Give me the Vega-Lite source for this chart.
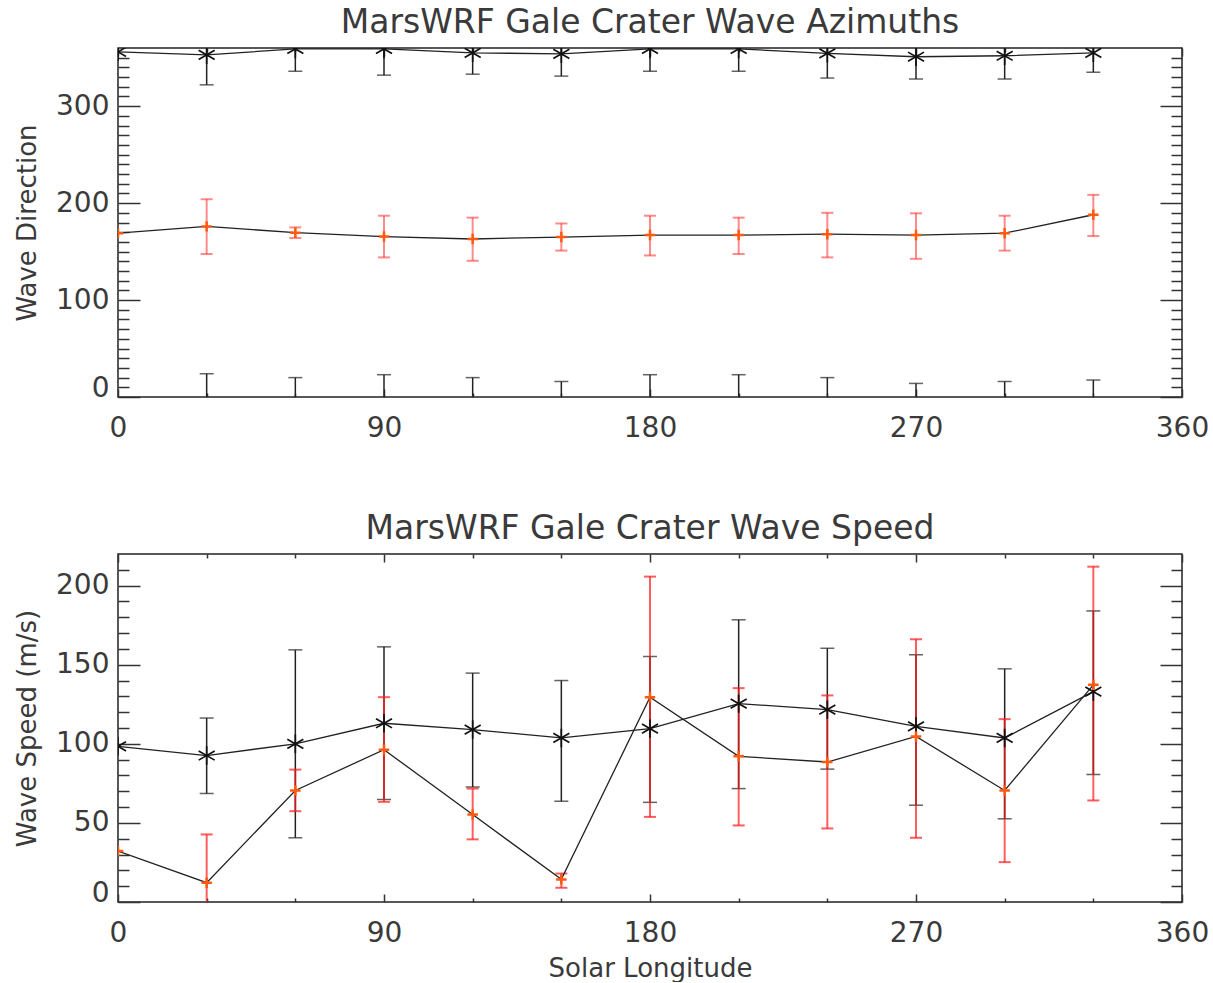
{
  "$schema": "https://vega.github.io/schema/vega-lite/v6.json",
  "padding": {"left": 13, "top": 6, "right": 0, "bottom": 0},
  "background": "white",
  "bounds": "flush",
  "spacing": 157,
  "config": {
    "view": {"stroke": "#222", "strokeWidth": 1.5},
    "font": "DejaVu Sans",
    "axis": {"labelFont": "DejaVu Sans", "labelFontSize": 28, "labelColor": "#3a3a3a", "titleFont": "DejaVu Sans", "titleFontSize": 26, "titleFontWeight": "normal", "titleColor": "#3a3a3a", "tickColor": "#333", "tickWidth": 1.5, "grid": false, "domain": false},
    "title": {"font": "DejaVu Sans", "fontSize": 33, "fontWeight": "normal", "color": "#3a3a3a", "anchor": "middle", "frame": "group", "offset": 7, "baseline": "alphabetic"}
  },
  "datasets": {
    "azimuth": [
      {"ls": 0, "series": "A", "dir": 356, "lo": null, "wrap": null},
      {"ls": 30, "series": "A", "dir": 353, "lo": 322, "wrap": 24},
      {"ls": 60, "series": "A", "dir": 359, "lo": 336, "wrap": 20},
      {"ls": 90, "series": "A", "dir": 359, "lo": 332, "wrap": 23},
      {"ls": 120, "series": "A", "dir": 355, "lo": 333, "wrap": 20},
      {"ls": 150, "series": "A", "dir": 354, "lo": 331, "wrap": 16},
      {"ls": 180, "series": "A", "dir": 359, "lo": 336, "wrap": 23},
      {"ls": 210, "series": "A", "dir": 359, "lo": 336, "wrap": 23},
      {"ls": 240, "series": "A", "dir": 354.5, "lo": 329, "wrap": 20},
      {"ls": 270, "series": "A", "dir": 351, "lo": 328, "wrap": 14},
      {"ls": 300, "series": "A", "dir": 352, "lo": 328, "wrap": 16},
      {"ls": 330, "series": "A", "dir": 355, "lo": 335, "wrap": 17.5},
      {"ls": 0, "series": "B", "dir": 169, "lo": null, "hi": null},
      {"ls": 30, "series": "B", "dir": 176, "lo": 147.5, "hi": 204},
      {"ls": 60, "series": "B", "dir": 169.5, "lo": 164, "hi": 175},
      {"ls": 90, "series": "B", "dir": 165.5, "lo": 144, "hi": 187},
      {"ls": 120, "series": "B", "dir": 163, "lo": 140.5, "hi": 185},
      {"ls": 150, "series": "B", "dir": 165, "lo": 151, "hi": 179},
      {"ls": 180, "series": "B", "dir": 167, "lo": 146, "hi": 187},
      {"ls": 210, "series": "B", "dir": 167, "lo": 147.5, "hi": 185},
      {"ls": 240, "series": "B", "dir": 168, "lo": 144, "hi": 190},
      {"ls": 270, "series": "B", "dir": 167, "lo": 142.5, "hi": 189.5},
      {"ls": 300, "series": "B", "dir": 169, "lo": 151, "hi": 187},
      {"ls": 330, "series": "B", "dir": 188, "lo": 166, "hi": 208.5}
    ],
    "speed": [
      {"ls": 0, "series": "A", "speed": 98.4, "lo": null, "hi": null},
      {"ls": 30, "series": "A", "speed": 92.6, "lo": 68.6, "hi": 116.3},
      {"ls": 60, "series": "A", "speed": 100, "lo": 40.6, "hi": 159.4},
      {"ls": 90, "series": "A", "speed": 113, "lo": 64.8, "hi": 161.3},
      {"ls": 120, "series": "A", "speed": 109, "lo": 72.7, "hi": 144.7},
      {"ls": 150, "series": "A", "speed": 103.7, "lo": 63.7, "hi": 140},
      {"ls": 180, "series": "A", "speed": 109.6, "lo": 63, "hi": 155.2},
      {"ls": 210, "series": "A", "speed": 125.4, "lo": 71.7, "hi": 178.4},
      {"ls": 240, "series": "A", "speed": 121.6, "lo": 84, "hi": 160.4},
      {"ls": 270, "series": "A", "speed": 111, "lo": 61.2, "hi": 156.3},
      {"ls": 300, "series": "A", "speed": 103.7, "lo": 52.6, "hi": 147.4},
      {"ls": 330, "series": "A", "speed": 133, "lo": 80.6, "hi": 184},
      {"ls": 0, "series": "B", "speed": 32.2, "lo": null, "hi": null},
      {"ls": 30, "series": "B", "speed": 12.2, "lo": -18.3, "hi": 42.7},
      {"ls": 60, "series": "B", "speed": 70.5, "lo": 57.4, "hi": 83.7},
      {"ls": 90, "series": "B", "speed": 96.3, "lo": 63.3, "hi": 129.5},
      {"ls": 120, "series": "B", "speed": 55.3, "lo": 39.6, "hi": 71.7},
      {"ls": 150, "series": "B", "speed": 14.3, "lo": 9, "hi": 18},
      {"ls": 180, "series": "B", "speed": 129.5, "lo": 53.8, "hi": 205.7},
      {"ls": 210, "series": "B", "speed": 92.1, "lo": 48.4, "hi": 135.2},
      {"ls": 240, "series": "B", "speed": 88.5, "lo": 46.5, "hi": 130.6},
      {"ls": 270, "series": "B", "speed": 104.7, "lo": 40.6, "hi": 166.1},
      {"ls": 300, "series": "B", "speed": 70.5, "lo": 25.2, "hi": 115.6},
      {"ls": 330, "series": "B", "speed": 137.3, "lo": 64.2, "hi": 212}
    ]
  },
  "vconcat": [
    {
      "width": 1064,
      "height": 349,
      "title": {"text": "MarsWRF Gale Crater Wave Azimuths"},
      "data": {"name": "azimuth"},
      "resolve": {"axis": {"x": "independent", "y": "independent"}},
      "layer": [
        {
          "transform": [{"filter": "datum.series === 'A' && isValid(datum.lo)"}],
          "mark": {"type": "rule", "color": "#222", "strokeWidth": 1.5, "clip": true},
          "encoding": {
            "x": {"field": "ls", "type": "quantitative", "scale": {"domain": [0, 360], "nice": false},
                  "axis": {"orient": "bottom", "values": [0, 90, 180, 270, 360], "ticks": false, "labelFlush": false, "labelPadding": 17, "title": null}},
            "y": {"field": "lo", "type": "quantitative", "scale": {"domain": [0, 360], "nice": false},
                  "axis": {"orient": "left", "values": [0, 100, 200, 300], "ticks": false, "labelPadding": 9, "labelFlush": true, "labelFlushOffset": 5,
                           "title": "Wave Direction", "titleAngle": -90, "titleX": -83, "titleY": 174.5, "titleAlign": "center", "titleBaseline": "alphabetic"}},
            "y2": {"datum": 360}
          }
        },
        {
          "transform": [{"filter": "datum.series === 'A' && isValid(datum.lo)"}],
          "mark": {"type": "tick", "orient": "horizontal", "size": 14, "thickness": 1.5, "color": "#222", "clip": true},
          "encoding": {
            "x": {"field": "ls", "type": "quantitative", "scale": {"domain": [0, 360], "nice": false},
                  "axis": {"orient": "bottom", "values": [0, 90, 180, 270, 360], "tickSize": -8, "labels": false, "title": null}},
            "y": {"field": "lo", "type": "quantitative", "scale": {"domain": [0, 360], "nice": false},
                  "axis": {"orient": "left", "values": [0, 100, 200, 300], "tickSize": -22, "labels": false, "title": null}}
          }
        },
        {
          "transform": [{"filter": "datum.series === 'A' && isValid(datum.wrap)"}],
          "mark": {"type": "rule", "color": "#222", "strokeWidth": 1.5, "clip": true},
          "encoding": {
            "x": {"field": "ls", "type": "quantitative", "scale": {"domain": [0, 360], "nice": false},
                  "axis": {"orient": "bottom", "values": [30, 60, 120, 150, 210, 240, 300, 330], "tickSize": -4, "labels": false, "title": null}},
            "y": {"field": "wrap", "type": "quantitative", "scale": {"domain": [0, 360], "nice": false},
                  "axis": {"orient": "left", "values": [10, 20, 30, 40, 50, 60, 70, 80, 90, 110, 120, 130, 140, 150, 160, 170, 180, 190, 210, 220, 230, 240, 250, 260, 270, 280, 290, 310, 320, 330, 340, 350], "tickSize": -11, "labels": false, "title": null}},
            "y2": {"datum": 0}
          }
        },
        {
          "transform": [{"filter": "datum.series === 'A' && isValid(datum.wrap)"}],
          "mark": {"type": "tick", "orient": "horizontal", "size": 14, "thickness": 1.5, "color": "#222", "clip": true},
          "encoding": {
            "x": {"field": "ls", "type": "quantitative", "scale": {"domain": [0, 360], "nice": false},
                  "axis": {"orient": "top", "values": [0, 90, 180, 270, 360], "tickSize": -8, "labels": false, "title": null}},
            "y": {"field": "wrap", "type": "quantitative", "scale": {"domain": [0, 360], "nice": false},
                  "axis": {"orient": "right", "values": [0, 100, 200, 300], "tickSize": -22, "labels": false, "title": null}}
          }
        },
        {
          "transform": [{"filter": "datum.series === 'B' && isValid(datum.lo)"}],
          "mark": {"type": "rule", "color": "#ff2a2a", "opacity": 0.55, "strokeWidth": 2, "clip": true},
          "encoding": {
            "x": {"field": "ls", "type": "quantitative", "scale": {"domain": [0, 360], "nice": false},
                  "axis": {"orient": "top", "values": [30, 60, 120, 150, 210, 240, 300, 330], "tickSize": -4, "labels": false, "title": null}},
            "y": {"field": "lo", "type": "quantitative", "scale": {"domain": [0, 360], "nice": false},
                  "axis": {"orient": "right", "values": [10, 20, 30, 40, 50, 60, 70, 80, 90, 110, 120, 130, 140, 150, 160, 170, 180, 190, 210, 220, 230, 240, 250, 260, 270, 280, 290, 310, 320, 330, 340, 350], "tickSize": -11, "labels": false, "title": null}},
            "y2": {"field": "hi"}
          }
        },
        {
          "transform": [{"filter": "datum.series === 'B' && isValid(datum.lo)"}, {"fold": ["lo", "hi"], "as": ["end", "val"]}],
          "mark": {"type": "tick", "orient": "horizontal", "size": 12, "thickness": 2, "color": "#ff2a2a", "opacity": 0.55, "clip": true},
          "encoding": {
            "x": {"field": "ls", "type": "quantitative", "scale": {"domain": [0, 360], "nice": false}, "axis": null},
            "y": {"field": "val", "type": "quantitative", "scale": {"domain": [0, 360], "nice": false}, "axis": null}
          }
        },
        {
          "mark": {"type": "line", "color": "#222", "strokeWidth": 1.3, "clip": true},
          "encoding": {
            "x": {"field": "ls", "type": "quantitative", "scale": {"domain": [0, 360], "nice": false}, "axis": null},
            "y": {"field": "dir", "type": "quantitative", "scale": {"domain": [0, 360], "nice": false}, "axis": null},
            "detail": {"field": "series"}
          }
        },
        {
          "transform": [{"filter": "datum.series === 'A'"}],
          "mark": {"type": "point", "shape": "M0,-1L0,1M-0.87,-0.5L0.87,0.5M-0.87,0.5L0.87,-0.5", "filled": false, "size": 340, "stroke": "#111", "strokeWidth": 1.7, "opacity": 1, "clip": true},
          "encoding": {
            "x": {"field": "ls", "type": "quantitative", "scale": {"domain": [0, 360], "nice": false}, "axis": null},
            "y": {"field": "dir", "type": "quantitative", "scale": {"domain": [0, 360], "nice": false}, "axis": null}
          }
        },
        {
          "transform": [{"filter": "datum.series === 'B'"}],
          "mark": {"type": "point", "shape": "M-1,0L1,0M0,-1L0,1", "filled": false, "size": 110, "stroke": "#ff5a10", "strokeWidth": 2.5, "opacity": 1, "clip": true},
          "encoding": {
            "x": {"field": "ls", "type": "quantitative", "scale": {"domain": [0, 360], "nice": false}, "axis": null},
            "y": {"field": "dir", "type": "quantitative", "scale": {"domain": [0, 360], "nice": false}, "axis": null}
          }
        }
      ]
    },
    {
      "width": 1064,
      "height": 348,
      "title": {"text": "MarsWRF Gale Crater Wave Speed"},
      "data": {"name": "speed"},
      "resolve": {"axis": {"x": "independent", "y": "independent"}},
      "layer": [
        {
          "transform": [{"filter": "datum.series === 'A' && isValid(datum.lo)"}],
          "mark": {"type": "rule", "color": "#222", "strokeWidth": 1.5, "clip": true},
          "encoding": {
            "x": {"field": "ls", "type": "quantitative", "scale": {"domain": [0, 360], "nice": false},
                  "axis": {"orient": "bottom", "values": [0, 90, 180, 270, 360], "ticks": false, "labelFlush": false, "labelPadding": 17,
                           "title": "Solar Longitude", "titleX": 532, "titleY": 74, "titleAlign": "center", "titleBaseline": "alphabetic"}},
            "y": {"field": "lo", "type": "quantitative", "scale": {"domain": [0, 220], "nice": false},
                  "axis": {"orient": "left", "values": [0, 50, 100, 150, 200], "ticks": false, "labelPadding": 9, "labelFlush": true, "labelFlushOffset": 5,
                           "title": "Wave Speed (m/s)", "titleAngle": -90, "titleX": -83, "titleY": 174, "titleAlign": "center", "titleBaseline": "alphabetic"}},
            "y2": {"field": "hi"}
          }
        },
        {
          "transform": [{"filter": "datum.series === 'A' && isValid(datum.lo)"}, {"fold": ["lo", "hi"], "as": ["end", "val"]}],
          "mark": {"type": "tick", "orient": "horizontal", "size": 14, "thickness": 1.5, "color": "#222", "clip": true},
          "encoding": {
            "x": {"field": "ls", "type": "quantitative", "scale": {"domain": [0, 360], "nice": false},
                  "axis": {"orient": "bottom", "values": [0, 90, 180, 270, 360], "tickSize": -8, "labels": false, "title": null}},
            "y": {"field": "val", "type": "quantitative", "scale": {"domain": [0, 220], "nice": false},
                  "axis": {"orient": "left", "values": [0, 50, 100, 150, 200], "tickSize": -22, "labels": false, "title": null}}
          }
        },
        {
          "transform": [{"filter": "datum.series === 'B' && isValid(datum.lo)"}],
          "mark": {"type": "rule", "color": "#ff1a1a", "opacity": 0.7, "strokeWidth": 2, "clip": true},
          "encoding": {
            "x": {"field": "ls", "type": "quantitative", "scale": {"domain": [0, 360], "nice": false},
                  "axis": {"orient": "bottom", "values": [30, 60, 120, 150, 210, 240, 300, 330], "tickSize": -4, "labels": false, "title": null}},
            "y": {"field": "lo", "type": "quantitative", "scale": {"domain": [0, 220], "nice": false},
                  "axis": {"orient": "left", "values": [10, 20, 30, 40, 60, 70, 80, 90, 110, 120, 130, 140, 160, 170, 180, 190, 210], "tickSize": -11, "labels": false, "title": null}},
            "y2": {"field": "hi"}
          }
        },
        {
          "transform": [{"filter": "datum.series === 'B' && isValid(datum.lo)"}, {"fold": ["lo", "hi"], "as": ["end", "val"]}],
          "mark": {"type": "tick", "orient": "horizontal", "size": 12, "thickness": 2, "color": "#ff1a1a", "opacity": 0.7, "clip": true},
          "encoding": {
            "x": {"field": "ls", "type": "quantitative", "scale": {"domain": [0, 360], "nice": false},
                  "axis": {"orient": "top", "values": [0, 90, 180, 270, 360], "tickSize": -8, "labels": false, "title": null}},
            "y": {"field": "val", "type": "quantitative", "scale": {"domain": [0, 220], "nice": false},
                  "axis": {"orient": "right", "values": [0, 50, 100, 150, 200], "tickSize": -22, "labels": false, "title": null}}
          }
        },
        {
          "mark": {"type": "line", "color": "#222", "strokeWidth": 1.3, "clip": true},
          "encoding": {
            "x": {"field": "ls", "type": "quantitative", "scale": {"domain": [0, 360], "nice": false},
                  "axis": {"orient": "top", "values": [30, 60, 120, 150, 210, 240, 300, 330], "tickSize": -4, "labels": false, "title": null}},
            "y": {"field": "speed", "type": "quantitative", "scale": {"domain": [0, 220], "nice": false},
                  "axis": {"orient": "right", "values": [10, 20, 30, 40, 60, 70, 80, 90, 110, 120, 130, 140, 160, 170, 180, 190, 210], "tickSize": -11, "labels": false, "title": null}},
            "detail": {"field": "series"}
          }
        },
        {
          "transform": [{"filter": "datum.series === 'A'"}],
          "mark": {"type": "point", "shape": "M0,-1L0,1M-0.87,-0.5L0.87,0.5M-0.87,0.5L0.87,-0.5", "filled": false, "size": 340, "stroke": "#111", "strokeWidth": 1.7, "opacity": 1, "clip": true},
          "encoding": {
            "x": {"field": "ls", "type": "quantitative", "scale": {"domain": [0, 360], "nice": false}, "axis": null},
            "y": {"field": "speed", "type": "quantitative", "scale": {"domain": [0, 220], "nice": false}, "axis": null}
          }
        },
        {
          "transform": [{"filter": "datum.series === 'B'"}],
          "mark": {"type": "point", "shape": "M-1,0L1,0M0,-1L0,1", "filled": false, "size": 110, "stroke": "#ff5a10", "strokeWidth": 2.5, "opacity": 1, "clip": true},
          "encoding": {
            "x": {"field": "ls", "type": "quantitative", "scale": {"domain": [0, 360], "nice": false}, "axis": null},
            "y": {"field": "speed", "type": "quantitative", "scale": {"domain": [0, 220], "nice": false}, "axis": null}
          }
        }
      ]
    }
  ]
}
